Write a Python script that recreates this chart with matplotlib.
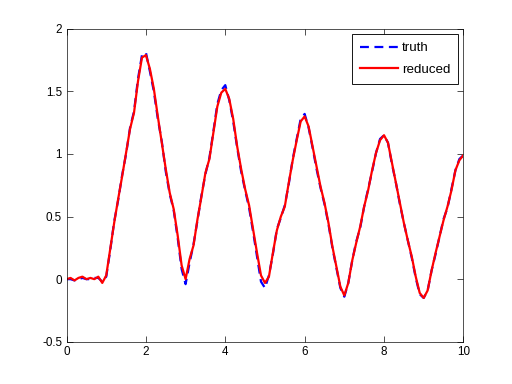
"""
Truth vs reduced model response, MATLAB-style line plot.
"""
import matplotlib
matplotlib.use('Agg')
import matplotlib.pyplot as plt

plt.rcParams['font.family'] = ['Liberation Sans', 'DejaVu Sans']
plt.rcParams['font.size'] = 10.5

# time samples (s)
t = [0.0, 0.1, 0.2, 0.3, 0.4, 0.5, 0.6, 0.7, 0.8, 0.9,
     1.0, 1.1, 1.2, 1.3, 1.4, 1.5, 1.6, 1.7, 1.8, 1.9,
     2.0, 2.1, 2.2, 2.3, 2.4, 2.5, 2.6, 2.7, 2.8, 2.9,
     3.0, 3.1, 3.2, 3.3, 3.4, 3.5, 3.6, 3.7, 3.8, 3.9,
     4.0, 4.1, 4.2, 4.3, 4.4, 4.5, 4.6, 4.7, 4.8, 4.9,
     5.0, 5.1, 5.2, 5.3, 5.4, 5.5, 5.6, 5.7, 5.8, 5.9,
     6.0, 6.1, 6.2, 6.3, 6.4, 6.5, 6.6, 6.7, 6.8, 6.9,
     7.0, 7.1, 7.2, 7.3, 7.4, 7.5, 7.6, 7.7, 7.8, 7.9,
     8.0, 8.1, 8.2, 8.3, 8.4, 8.5, 8.6, 8.7, 8.8, 8.9,
     9.0, 9.1, 9.2, 9.3, 9.4, 9.5, 9.6, 9.7, 9.8, 9.9,
     10.0]

# reduced model output
reduced = [0.00, 0.01, -0.01, 0.01, 0.02, 0.00, 0.01, 0.00, 0.02, -0.03,
           0.03, 0.24, 0.45, 0.64, 0.82, 1.01, 1.20, 1.33, 1.58, 1.77,
           1.79, 1.68, 1.52, 1.30, 1.09, 0.88, 0.69, 0.56, 0.35, 0.11,
           0.00, 0.16, 0.27, 0.48, 0.66, 0.85, 0.96, 1.17, 1.38, 1.49,
           1.52, 1.44, 1.28, 1.06, 0.88, 0.72, 0.59, 0.40, 0.21, 0.03,
           -0.03, 0.02, 0.21, 0.39, 0.50, 0.58, 0.77, 0.95, 1.11, 1.26,
           1.30, 1.22, 1.06, 0.90, 0.74, 0.61, 0.45, 0.26, 0.10, -0.06,
           -0.13, -0.03, 0.15, 0.29, 0.42, 0.58, 0.71, 0.87, 1.01, 1.11,
           1.15, 1.09, 0.93, 0.77, 0.61, 0.45, 0.31, 0.18, 0.02, -0.11,
           -0.15, -0.09, 0.07, 0.21, 0.34, 0.47, 0.58, 0.71, 0.87, 0.95,
           0.99]

# full model output
truth = [0.00, 0.00, -0.01, 0.00, 0.01, 0.00, 0.00, 0.01, 0.01, -0.02,
         0.02, 0.23, 0.46, 0.63, 0.83, 1.00, 1.21, 1.34, 1.60, 1.79,
         1.81, 1.66, 1.50, 1.28, 1.10, 0.86, 0.68, 0.55, 0.33, 0.08,
         -0.04, 0.13, 0.28, 0.47, 0.67, 0.84, 0.97, 1.18, 1.40, 1.51,
         1.55, 1.43, 1.26, 1.05, 0.86, 0.71, 0.57, 0.38, 0.18, -0.02,
         -0.07, 0.03, 0.20, 0.40, 0.49, 0.59, 0.76, 0.96, 1.12, 1.28,
         1.32, 1.21, 1.05, 0.88, 0.73, 0.60, 0.44, 0.25, 0.09, -0.07,
         -0.14, -0.03, 0.15, 0.30, 0.41, 0.58, 0.72, 0.86, 1.01, 1.12,
         1.15, 1.09, 0.92, 0.77, 0.60, 0.45, 0.31, 0.17, 0.01, -0.12,
         -0.15, -0.09, 0.07, 0.20, 0.34, 0.48, 0.57, 0.72, 0.87, 0.96,
         0.99]

fig = plt.figure(figsize=(6.4, 4.8), dpi=80)
ax = fig.add_axes([0.13, 0.11, 0.775, 0.815])

ax.plot(t, truth, color='#0000ff', linestyle=(0, (4, 2.5)), linewidth=2, label='truth')
ax.plot(t, reduced, color='#ff0000', linestyle='-', linewidth=2, label='reduced')

ax.set_xlim(0, 10)
ax.set_ylim(-0.5, 2)
ax.set_xticks([0, 2, 4, 6, 8, 10])
ax.set_yticks([-0.5, 0, 0.5, 1, 1.5, 2])
ax.set_yticklabels(['-0.5', '0', '0.5', '1', '1.5', '2'])
ax.tick_params(direction='in', top=True, right=True, length=5, width=0.6, pad=4)
for sp in ax.spines.values():
    sp.set_linewidth(0.6)

leg = ax.legend(loc='upper right', fancybox=False, framealpha=1, edgecolor='k',
                borderaxespad=0.4, handlelength=2.85, handletextpad=0.3,
                borderpad=0.6, labelspacing=0.7, fontsize=12)
leg.get_frame().set_linewidth(0.8)

fig.savefig('out.png', dpi=80)
